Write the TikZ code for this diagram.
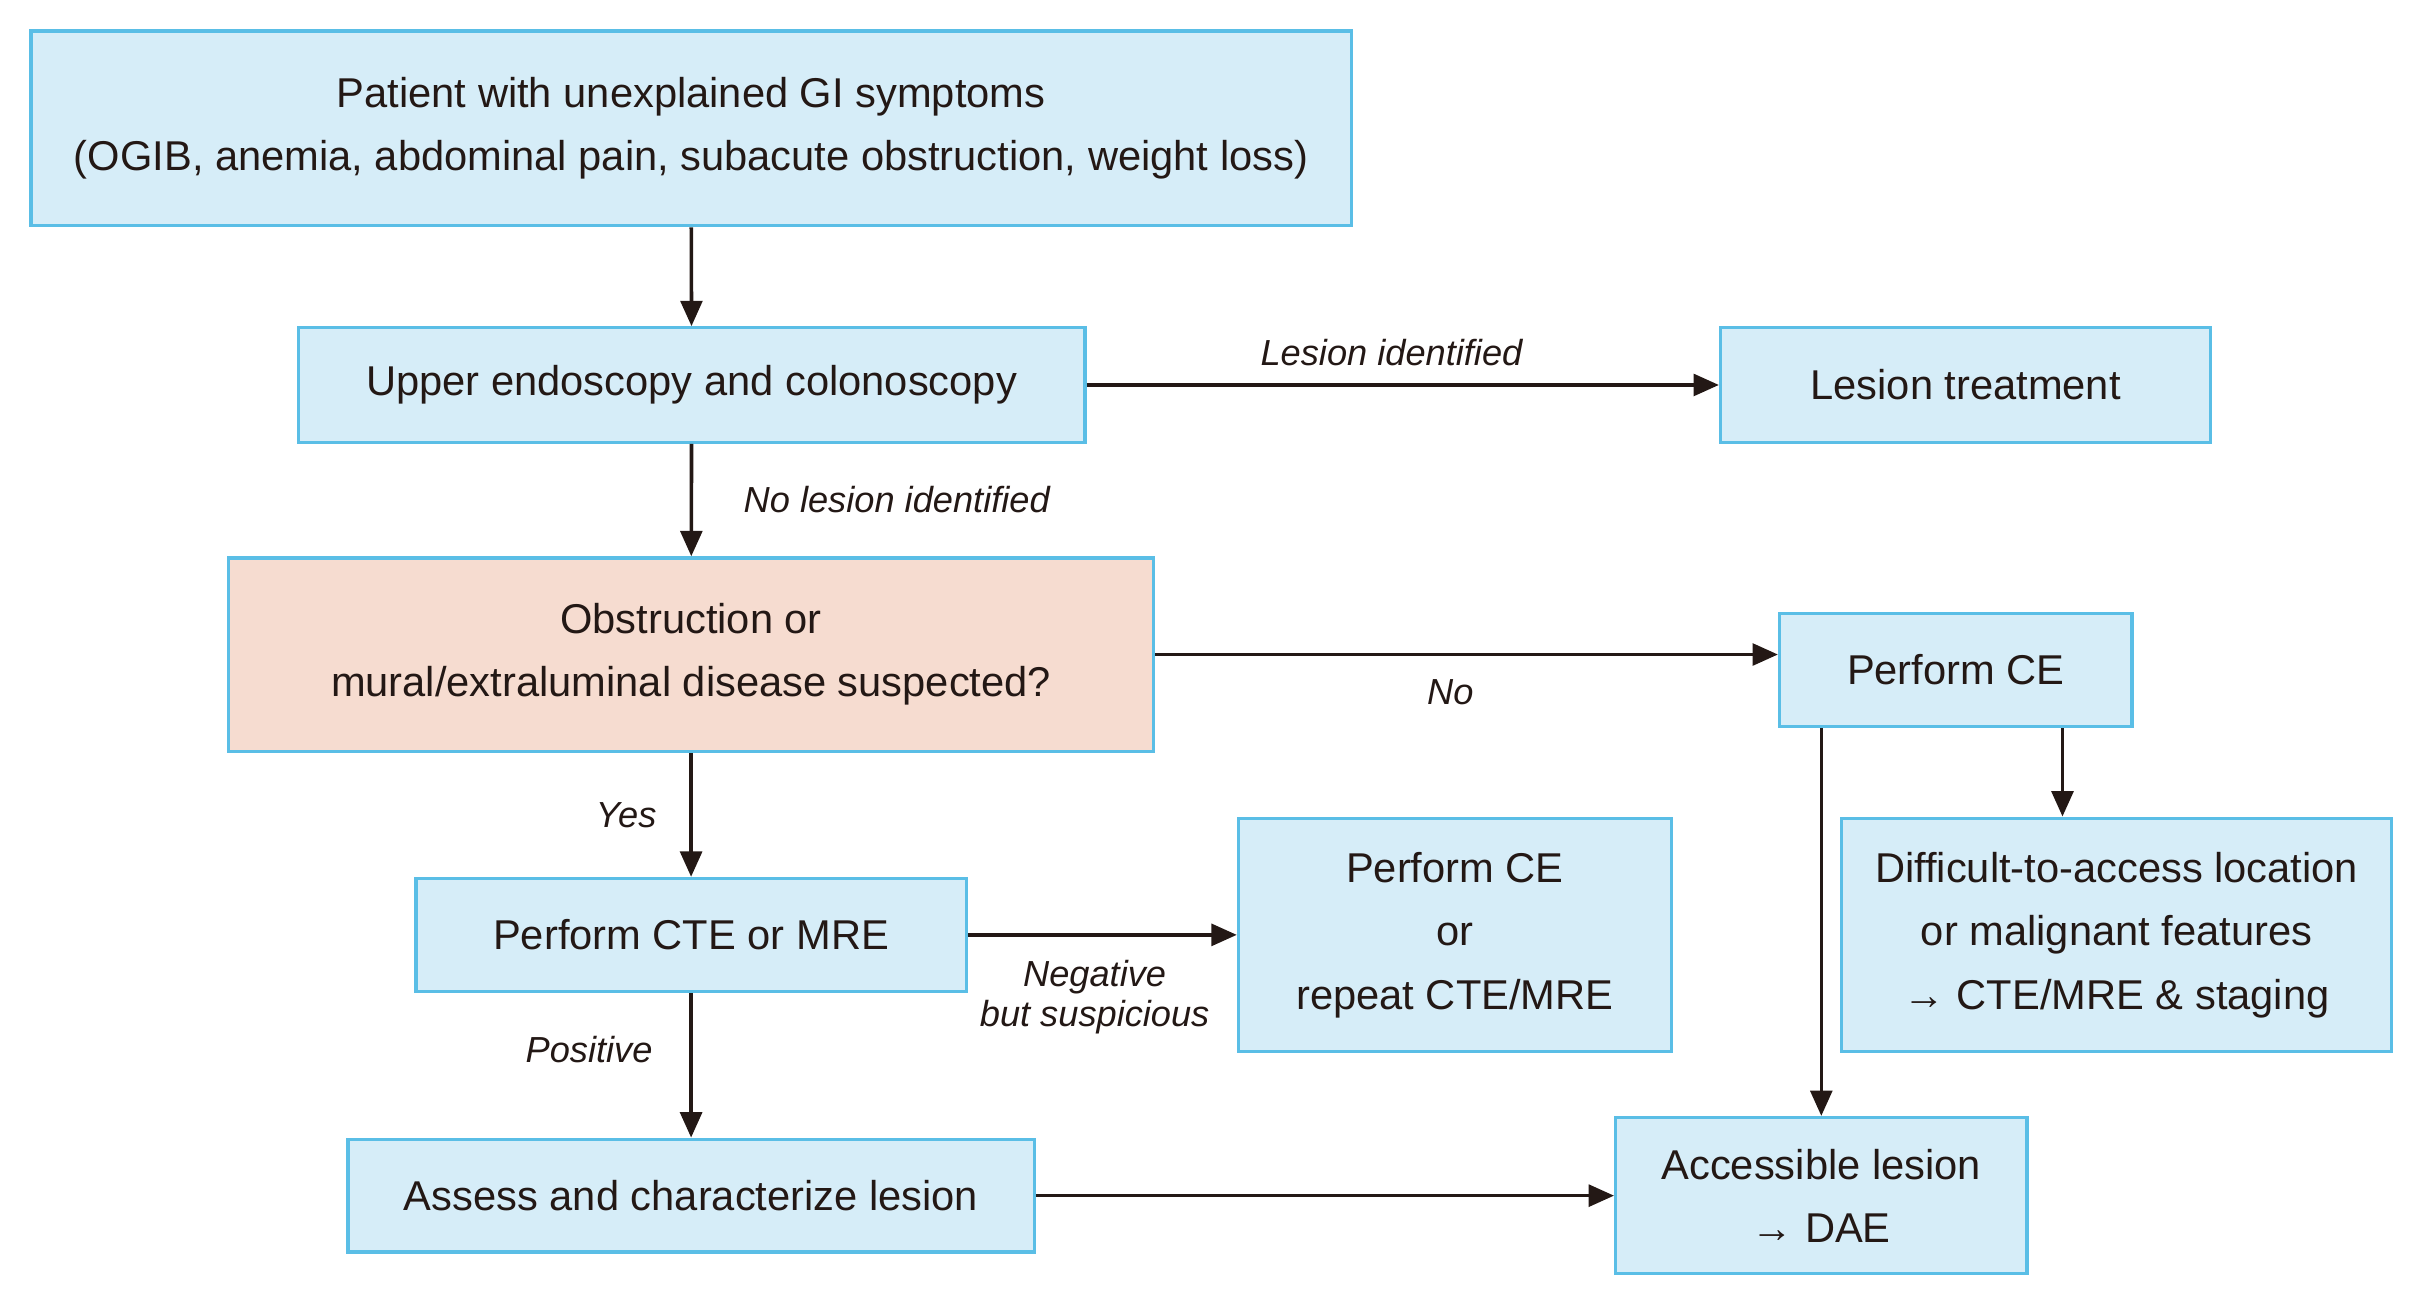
\documentclass[tikz,border=0pt]{standalone}
\usepackage{fontspec}
\setmainfont{Liberation Sans}
\usetikzlibrary{arrows.meta}
\definecolor{BoxColor}{RGB}{214,237,248}
\definecolor{BoxLine}{RGB}{90,190,230}
\definecolor{AskColor}{RGB}{246,220,208}
\definecolor{ArrowColor}{RGB}{35,24,21}
\tikzstyle{flow-base}=[rectangle,
                         draw=BoxLine,
                         line width=0.9pt,
                         text centered,
                         align=center,
                         font=\fontsize{11.5}{17.5}\selectfont,
                         text=ArrowColor,
                        ]
\tikzstyle{flowbox}=[flow-base, fill={BoxColor}]
\tikzstyle{askbox}=[flow-base, fill={AskColor}]
\tikzstyle{edge-label}=[font=\fontsize{10}{11.5}\selectfont\itshape, text=ArrowColor, align=center]

\begin{document}
\begin{tikzpicture}[>={Triangle[length=7pt,width=6pt]}]
    \useasboundingbox (0,0) rectangle (23.43,-12.645);
    % Boxes
    % --------------------------------------------------------------------------
    \node at (6.705, -1.245) (patient) [flowbox, minimum width=12.81cm, minimum height=1.89cm]
        {Patient with unexplained GI symptoms\\(OGIB, anemia, abdominal pain, subacute obstruction, weight loss)};
    \node at (6.71,  -3.735) (endo)    [flowbox, minimum width=7.635cm, minimum height=1.11cm] {Upper endoscopy and colonoscopy};
    \node at (19.07, -3.735) (treat)   [flowbox, minimum width=4.755cm, minimum height=1.11cm] {Lesion treatment};
    \node at (6.705, -6.35)  (obstr)   [askbox,  minimum width=8.97cm,  minimum height=1.875cm]
        {Obstruction or\\mural/extraluminal disease suspected?};
    \node at (18.975,-6.50)  (ce)      [flowbox, minimum width=3.42cm,  minimum height=1.095cm] {Perform CE};
    \node at (20.535,-9.07)  (difficult) [flowbox, minimum width=5.34cm, minimum height=2.265cm]
        {Difficult-to-access location\\or malignant features\\→ CTE/MRE \& staging};
    \node at (6.705, -9.07)  (cte)     [flowbox, minimum width=5.34cm,  minimum height=1.095cm] {Perform CTE or MRE};
    \node at (14.115,-9.07)  (repeat)  [flowbox, minimum width=4.2cm,   minimum height=2.265cm] {Perform CE\\or\\repeat CTE/MRE};
    \node at (6.705, -11.60) (assess)  [flowbox, minimum width=6.66cm,  minimum height=1.095cm] {Assess and characterize lesion};
    \node at (17.67, -11.60) (access)  [flowbox, minimum width=3.99cm,  minimum height=1.515cm] {Accessible lesion\\→ DAE};

    % Labels
    % --------------------------------------------------------------------------
    \node at (13.5,  -3.42)  (lbl_found)    [edge-label] {Lesion identified};
    \node at (8.7,   -4.845) (lbl_notfound) [edge-label] {No lesion identified};
    \node at (14.07, -6.72)  (lbl_no)       [edge-label] {No};
    \node at (6.075, -7.905) (lbl_yes)      [edge-label] {Yes};
    \node at (10.62, -9.675) (lbl_neg)      [edge-label, font=\fontsize{10}{11}\selectfont\itshape] {Negative\\but suspicious};
    \node at (5.715, -10.185)(lbl_pos)      [edge-label] {Positive};

    % Arrows
    % --------------------------------------------------------------------------
    \begin{scope}[draw=ArrowColor, line width=1pt]
    \draw[->] (patient) -- (endo);
    \draw[->] (endo) -- (treat);
    \draw[->] (endo) -- (obstr);
    \draw[->] (obstr.east) -- (obstr.east -| ce.west);
    \draw[->] (obstr) -- (cte);
    \draw[->] (cte) -- (repeat);
    \draw[->] (cte) -- (assess);
    \draw[->] (assess) -- (access);
    \draw[->] (ce.south -| access.north) -- (access.north);
    \draw[->] ([xshift=1.035cm]ce.south) -- ([xshift=1.035cm]ce.south |- difficult.north);
    \end{scope}
\end{tikzpicture}
\end{document}
